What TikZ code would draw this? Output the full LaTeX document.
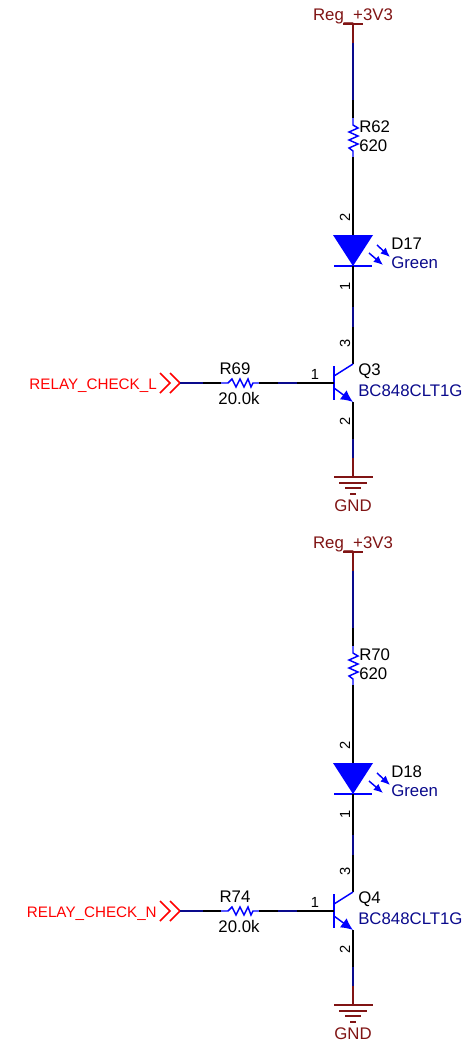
\documentclass[tikz,border=0pt]{standalone}
\usepackage{fontspec}
\setmainfont{Liberation Sans}
\usetikzlibrary{arrows.meta}
\definecolor{powerred}{RGB}{128,20,20}
\definecolor{netblue}{RGB}{10,10,140}
\definecolor{partblue}{RGB}{0,0,255}
\tikzset{
	wire/.style={draw=black, line width=1.1pt},
	netwire/.style={draw=netblue, line width=1.1pt},
	part/.style={draw=partblue, line width=1.1pt},
	powerline/.style={draw=powerred, line width=1.1pt},
	txt/.style={font=\fontsize{12.6pt}{14pt}\selectfont, inner sep=0pt, yshift=-.75pt},
	refname/.style={txt, text=black},
	partname/.style={txt, text=netblue},
	powername/.style={txt, text=powerred},
	netname/.style={font=\fontsize{11.4pt}{13pt}\selectfont, inner sep=0pt, text=red, anchor=east},
	pinnum/.style={font=\fontsize{11pt}{12pt}\selectfont, inner sep=0pt, text=black},
	pinside/.style={pinnum, rotate=90},
}
\newcommand{\relaystage}[7]{
	\begin{scope}[shift={(0,#1)}, name prefix=#2-]
	% supply, series resistor and LED
	\coordinate (bar) at (353,24);
	\coordinate (a1) at (353,43);
	\coordinate (a2) at (353,100);
	\coordinate (r1) at (353,118);
	\coordinate (r2) at (353,157);
	\coordinate (dtop) at (353,235);
	\coordinate (dtip) at (353,266);
	\coordinate (b1) at (353,307);
	\coordinate (b2) at (353,327);
	\coordinate (col) at (353,364);
	\coordinate (em) at (353,402);
	\coordinate (c1) at (353,439);
	\coordinate (c2) at (353,458);
	\coordinate (gnd) at (353,477);
	\node[powername] (vcc) at (353,15) {Reg\_+3V3};
	\draw[powerline] (343,24) -- (363,24);
	\draw[powerline] (bar) -- (a1);
	\draw[netwire] (a1) -- (a2);
	\draw[wire] (a2) -- (r1);
	\draw[part] (r1) -- (353,125) -- (358,128) -- (349,132) -- (358,136) -- (349,140) -- (358,144) -- (349,148) -- (353,151) -- (r2);
	\draw[wire] (r2) -- (dtop);
	\node[refname, anchor=west] (rled) at (359,126) {#3};
	\node[refname, anchor=west] (rledval) at (359,145) {620};
	\node[pinside] (pa) at (345,217) {2};
	\fill[partblue] (333,235) -- (373,235) -- (dtip) -- cycle;
	\draw[part] (334,266) -- (372,266);
	\draw[part, -{Latex[length=7pt,width=6pt]}] (377,245) -- (390,257);
	\draw[part, -{Latex[length=7pt,width=6pt]}] (369,253) -- (383,265);
	\node[refname, anchor=west] (led) at (391,243) {#4};
	\node[partname, anchor=west] (ledval) at (391,262) {Green};
	\node[pinside] (pk) at (345,286) {1};
	\draw[wire] (dtip) -- (b1);
	\draw[netwire] (b1) -- (b2);
	\draw[wire] (b2) -- (col);
	% transistor and ground
	\node[pinside] (pc) at (345,343) {3};
	\draw[part] (334,366) -- (334,400);
	\draw[part] (334,376) -- (col);
	\draw[part, -{Latex[length=9pt,width=8.5pt]}] (334,388) -- (em);
	\node[refname, anchor=west] (q) at (358,370) {#5};
	\node[partname, anchor=west] (qval) at (358,390) {BC848CLT1G};
	\node[pinside] (pe) at (345,421) {2};
	\draw[wire] (em) -- (c1);
	\draw[netwire] (c1) -- (c2);
	\draw[powerline] (c2) -- (gnd);
	\draw[powerline] (334,477) -- (373,477);
	\draw[powerline] (339,483) -- (367,483);
	\draw[powerline] (345,488) -- (361,488);
	\draw[powerline] (350,494) -- (356,494);
	\node[powername] (gndname) at (353,505) {GND};
	% base input
	\coordinate (in) at (180,383);
	\coordinate (h1) at (203,383);
	\coordinate (h2) at (221,383);
	\coordinate (h3) at (259,383);
	\coordinate (h4) at (278,383);
	\coordinate (h5) at (297,383);
	\coordinate (base) at (334,383);
	\node[netname] (net) at (157,386) {#6};
	\draw[draw=red, line width=1.1pt] (160,373) -- (170,383) -- (160,393);
	\draw[draw=red, line width=1.1pt] (170,373) -- (in) -- (170,393);
	\draw[netwire] (in) -- (h1);
	\draw[wire] (h1) -- (h2);
	\draw[part] (h2) -- (228,383) -- (232,379) -- (236,387) -- (240,379) -- (244,387) -- (248,379) -- (251,387) -- (253,383) -- (h3);
	\draw[wire] (h3) -- (h4);
	\draw[netwire] (h4) -- (h5);
	\draw[wire] (h5) -- (base);
	\node[refname] (rb) at (235,368) {#7};
	\node[refname] (rbval) at (239,397) {20.0k};
	\node[pinnum] (pb) at (315,374) {1};
	\end{scope}
}

\begin{document}
\begin{tikzpicture}[x=.75pt, y=-.75pt]
	\useasboundingbox (0,0) rectangle (466,1042);
	\relaystage{0}{L}{R62}{D17}{Q3}{RELAY\_CHECK\_L}{R69}
	\relaystage{528}{N}{R70}{D18}{Q4}{RELAY\_CHECK\_N}{R74}
\end{tikzpicture}
\end{document}
